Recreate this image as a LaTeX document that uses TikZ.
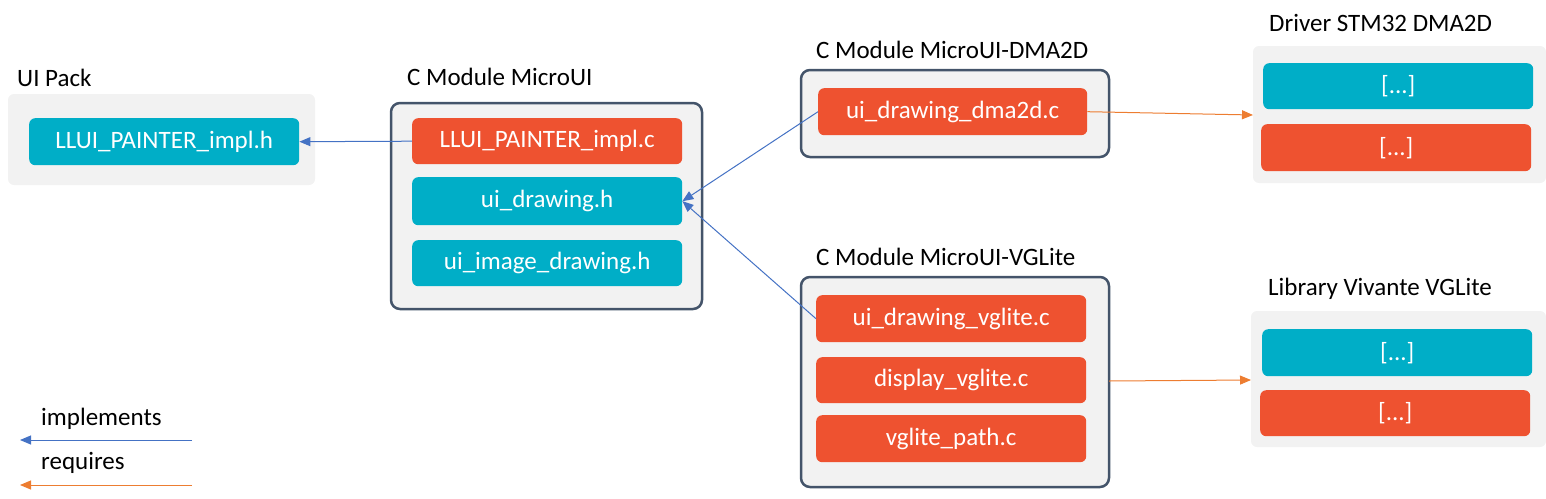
\documentclass[tikz,border=0pt]{standalone}
\usepackage{fontspec}
\setmainfont{Carlito}
\usetikzlibrary{arrows.meta}
\definecolor{teal}{RGB}{0,174,199}
\definecolor{orng}{RGB}{238,82,48}
\definecolor{grayfill}{RGB}{242,242,242}
\definecolor{slate}{RGB}{68,84,106}
\definecolor{implblue}{RGB}{68,114,196}
\definecolor{reqorange}{RGB}{237,125,49}
\tikzset{
  filebox/.style={rounded corners=6pt, draw=none, text=white, font=\fontsize{25}{30}\selectfont, inner sep=0pt, anchor=north west},
  tealbox/.style={filebox, fill=teal},
  orngbox/.style={filebox, fill=orng},
  packbox/.style={rounded corners=6pt, fill=grayfill, draw=none},
  modbox/.style={rounded corners=9pt, fill=grayfill, draw=slate, line width=2.5pt},
  title/.style={anchor=west, font=\fontsize{25}{30}\selectfont, text=black, inner sep=0pt},
  impl/.style={draw=implblue, line width=1pt, -{Triangle[length=11pt,width=9pt]}},
  req/.style={draw=reqorange, line width=1pt, -{Triangle[length=11pt,width=9pt]}},
}
\begin{document}
\begin{tikzpicture}[x=1pt,y=-1pt]
\useasboundingbox (0,0) rectangle (1546,498);
% UI Pack
\node[title] (tUIPack) at (17,78) {UI Pack};
\fill[packbox] (8,94) rectangle (315,185);
\node[tealbox, minimum width=270pt, minimum height=47pt] (llh) at (29,118) {LLUI\_PAINTER\_impl.h};
% MicroUI
\node[title] (tMicroUI) at (407,77) {C Module MicroUI};
\draw[modbox] (391,103) rectangle (702,309);
\node[orngbox, minimum width=270pt, minimum height=46pt] (llc) at (412,118) {LLUI\_PAINTER\_impl.c};
\node[tealbox, minimum width=270pt, minimum height=48pt] (uid) at (412,177) {ui\_drawing.h};
\node[tealbox, minimum width=270pt, minimum height=46pt] (uiid) at (412,240) {ui\_image\_drawing.h};
% DMA2D module
\node[title] (tDMA) at (816,50) {C Module MicroUI-DMA2D};
\draw[modbox] (801,70) rectangle (1109,157);
\node[orngbox, minimum width=269pt, minimum height=47pt] (dma) at (818,88) {ui\_drawing\_dma2d.c};
% VGLite module
\node[title] (tVG) at (816,257) {C Module MicroUI-VGLite};
\draw[modbox] (801,277) rectangle (1109,487);
\coordinate (vgE) at (1109,381);
\node[orngbox, minimum width=270pt, minimum height=47pt] (vgd) at (816,295) {ui\_drawing\_vglite.c};
\node[orngbox, minimum width=270pt, minimum height=46pt] (vgdisp) at (816,357) {display\_vglite.c};
\node[orngbox, minimum width=270pt, minimum height=47pt] (vgpath) at (816,415) {vglite\_path.c};
% Driver STM32 DMA2D
\node[title] (tDrv) at (1269,23) {Driver STM32 DMA2D};
\fill[packbox] (1253,46) rectangle (1546,183);
\coordinate (drvW) at (1253,115);
\node[tealbox, minimum width=270pt, minimum height=46pt] (drv1) at (1263,63) {[...]};
\node[orngbox, minimum width=270pt, minimum height=47pt] (drv2) at (1261,124) {[...]};
% Library Vivante VGLite
\node[title] (tLib) at (1268,289) {Library Vivante VGLite};
\fill[packbox] (1251,311) rectangle (1546,447);
\coordinate (libW) at (1251,380);
\node[tealbox, minimum width=270pt, minimum height=47pt] (lib1) at (1262,329) {[...]};
\node[orngbox, minimum width=270pt, minimum height=46pt] (lib2) at (1260,390) {[...]};
% connectors
\draw[impl] (llc.west) -- (llh.east);
\draw[impl] (dma.west) -- (uid.east);
\draw[impl] (vgd.west) -- (uid.east);
\draw[req] (dma.east) -- (drvW);
\draw[req] (vgE) -- (libW);
% legend
\node[title] (lgImpl) at (41,419) {implements};
\node[title] (lgReq) at (41,463) {requires};
\coordinate (li1) at (192,440);
\coordinate (li2) at (20,440);
\coordinate (lr1) at (192,485);
\coordinate (lr2) at (20,485);
\draw[impl] (li1) -- (li2);
\draw[req] (lr1) -- (lr2);
\end{tikzpicture}
\end{document}
